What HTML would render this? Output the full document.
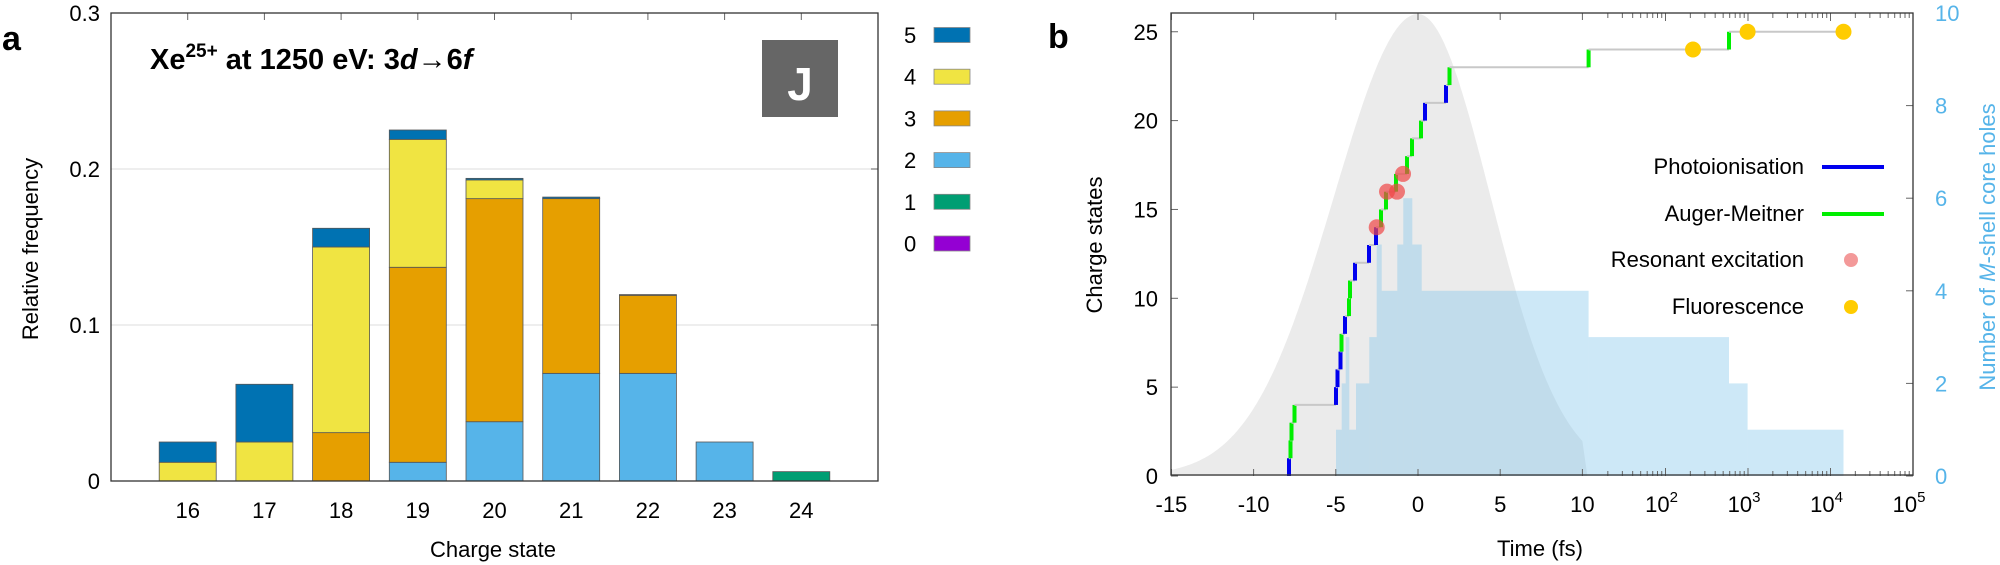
<!DOCTYPE html>
<html><head><meta charset="utf-8"><style>
html,body{margin:0;padding:0;background:#fff}
svg{display:block}
text{font-family:"Liberation Sans",sans-serif}
</style></head><body>
<svg id="s" width="2000" height="565" viewBox="0 0 2000 565" xmlns="http://www.w3.org/2000/svg">
<!-- Panel a -->
<g id="pa"></g>
<rect x="111" y="13" width="767" height="468" fill="none" stroke="#333" stroke-width="1.3"/>
<text x="2" y="50" font-size="34" font-weight="bold">a</text>
<text x="150" y="69" font-size="29" font-weight="bold">Xe<tspan dy="-12" font-size="19">25+</tspan><tspan dy="12"> at 1250 eV: 3</tspan><tspan font-style="italic">d</tspan>→6<tspan font-style="italic">f</tspan></text>
<rect x="762" y="40" width="76" height="77" fill="#666"/>
<text x="800" y="100" font-size="46" font-weight="bold" fill="#fff" text-anchor="middle">J</text>
<g font-size="22" text-anchor="end">
<text x="100" y="21">0.3</text><text x="100" y="177">0.2</text><text x="100" y="333">0.1</text><text x="100" y="489">0</text>
</g>
<g font-size="22" text-anchor="middle" id="axa"></g>
<text x="493" y="557" font-size="22" text-anchor="middle">Charge state</text>
<text transform="translate(38,249) rotate(-90)" font-size="22" text-anchor="middle">Relative frequency</text>
<g font-size="22" id="lega"></g>

<!-- Panel b -->
<g id="pb"></g>
<rect x="1171" y="13" width="742" height="462" fill="none" stroke="#333" stroke-width="1.3"/>
<text x="1048" y="48" font-size="34" font-weight="bold">b</text>
<g font-size="22" text-anchor="end" id="ylb"></g>
<g font-size="22" fill="#56b4e9" id="yrb"></g>
<g font-size="22" text-anchor="middle" id="xlb"></g>
<text x="1540" y="556" font-size="22" text-anchor="middle">Time (fs)</text>
<text transform="translate(1102,245) rotate(-90)" font-size="22" text-anchor="middle">Charge states</text>
<text transform="translate(1995,247) rotate(-90)" font-size="22" text-anchor="middle" fill="#56b4e9">Number of <tspan font-style="italic">M</tspan>-shell core holes</text>
<g font-size="22" text-anchor="end">
<text x="1804" y="174">Photoionisation</text>
<text x="1804" y="221">Auger-Meitner</text>
<text x="1804" y="267">Resonant excitation</text>
<text x="1804" y="314">Fluorescence</text>
</g>
<line x1="1822" y1="167" x2="1884" y2="167" stroke="#0000ee" stroke-width="4"/>
<line x1="1822" y1="214" x2="1884" y2="214" stroke="#00ee00" stroke-width="4"/>
<circle cx="1851" cy="260" r="7" fill="#f08080" opacity="0.8"/>
<circle cx="1851" cy="307" r="7" fill="#ffcc00"/>
</svg>
<script>
const NS="http://www.w3.org/2000/svg";
function el(p,t,a){const e=document.createElementNS(NS,t);for(const k in a)e.setAttribute(k,a[k]);document.getElementById(p).appendChild(e);return e;}
// panel a
const Y=v=>481-v*1560; const X=c=>111+76.7*(c-15);
el('pa','line',{x1:111,x2:878,y1:Y(0.1),y2:Y(0.1),stroke:'#e4e4e4','stroke-width':1.2});
el('pa','line',{x1:111,x2:878,y1:Y(0.2),y2:Y(0.2),stroke:'#e4e4e4','stroke-width':1.2});
const C={5:'#0072b2',4:'#f0e442',3:'#e69f00',2:'#56b4e9',1:'#009e73',0:'#9400d3'};
const bars={16:[[4,0.012],[5,0.025]],17:[[4,0.025],[5,0.062]],18:[[3,0.031],[4,0.150],[5,0.162]],
19:[[2,0.012],[3,0.137],[4,0.219],[5,0.225]],20:[[2,0.038],[3,0.181],[4,0.193],[5,0.194]],
21:[[2,0.069],[3,0.181],[5,0.182]],22:[[2,0.069],[3,0.119],[5,0.1195]],23:[[2,0.025]],24:[[1,0.006]]};
for(const c in bars){let lo=0;for(const [k,hi] of bars[c]){el('pa','rect',{x:X(+c)-28.5,y:Y(hi),width:57,height:Y(lo)-Y(hi),fill:C[k],stroke:'#555','stroke-width':0.8});lo=hi;}}
for(let c=16;c<=24;c++){el('pa','line',{x1:X(c),x2:X(c),y1:13,y2:20,stroke:'#666'});const t=el('axa','text',{x:X(c),y:518});t.textContent=c;}
[0.1,0.2].forEach(v=>{el('pa','line',{x1:871,x2:878,y1:Y(v),y2:Y(v),stroke:'#666'});});
[5,4,3,2,1,0].forEach((k,i)=>{const y=35+i*41.7;const t=el('lega','text',{x:904,y:y+8});t.textContent=k;el('lega','rect',{x:934,y:y-7.5,width:36,height:15,fill:C[k],stroke:'#888','stroke-width':0.8});});
// panel b
const YB=q=>476-17.77*q, YR=n=>476-46.3*n;
const T=t=>t<=10?1418+16.44*t:1583+82.5*Math.log10(t/10);
let d='M1171,476';for(let t=-15;t<=10;t+=0.1){const s=t<0?5.1:4.4;d+=` L${T(t).toFixed(1)},${YB(26*Math.exp(-t*t/(2*s*s))).toFixed(1)}`;}
d+=` L${T(10)+5},476 Z`;el('pb','path',{d:d,fill:'#ebebeb'});
const H=[[1336,1341.7,1],[1341.7,1345.7,2],[1345.7,1349.3,3],[1349.3,1356,1],[1356,1369.3,2],[1369.3,1376.7,3],[1376.7,1381.7,5],[1381.7,1397.3,4],[1397.3,1403.3,5],[1403.3,1412.3,6],[1412.3,1421.7,5],[1421.7,1588.6,4],[1588.6,1729,3],[1729,1747.6,2],[1747.6,1843.5,1]];
for(const [a,b,n] of H)el('pb','rect',{x:a,y:YR(n),width:b-a,height:YR(0)-YR(n),fill:'rgba(135,200,235,0.42)'});
const S=[[1289,0,1,'b'],[1290.5,1,2,'g'],[1291.5,2,3,'g'],[1294.5,3,4,'g'],[1336,4,5,'b'],[1337.5,5,6,'b'],[1340.5,6,7,'b'],[1341.5,7,8,'g'],[1345,8,9,'b'],[1349,9,10,'g'],[1350,10,11,'g'],[1355,11,12,'b'],[1369,12,13,'b'],[1376,13,14,'b'],[1381,14,15,'g'],[1386,15,16,'g'],[1396,16,17,'g'],[1407,17,18,'g'],[1412,18,19,'g'],[1421,19,20,'g'],[1425,20,21,'b'],[1446,21,22,'b'],[1449.5,22,23,'g'],[1588.6,23,24,'g'],[1729,24,25,'g']];
let px=S[0][0];
for(let i=0;i<S.length;i++){const [x,a,b,c]=S[i];if(i>0)el('pb','line',{x1:px,x2:x,y1:YB(a),y2:YB(a),stroke:'#c8c8c8','stroke-width':2});
el('pb','line',{x1:x,x2:x,y1:YB(a),y2:YB(b),stroke:c=='b'?'#0000ee':'#00ee00','stroke-width':4});px=x;}
el('pb','line',{x1:px,x2:1843.5,y1:YB(25),y2:YB(25),stroke:'#c8c8c8','stroke-width':2});
[[1376.7,14],[1387,16],[1397,16],[1403,17]].forEach(([x,q])=>el('pb','circle',{cx:x,cy:YB(q),r:8,fill:'rgba(240,70,70,0.7)'}));
[[1693,24],[1747.6,25],[1843.5,25]].forEach(([x,q])=>el('pb','circle',{cx:x,cy:YB(q),r:8,fill:'#ffcc00'}));
for(let q=0;q<=25;q+=5){el('pb','line',{x1:1171,x2:1178,y1:YB(q),y2:YB(q),stroke:'#666'});const t=el('ylb','text',{x:1158,y:YB(q)+8});t.textContent=q;}
for(let n=0;n<=10;n+=2){el('pb','line',{x1:1906,x2:1913,y1:YR(n),y2:YR(n),stroke:'#666'});const t=el('yrb','text',{x:1935,y:YR(n)+8});t.textContent=n;}
for(let t=-15;t<=10;t+=5){el('pb','line',{x1:T(t),x2:T(t),y1:469,y2:476,stroke:'#666'});el('pb','line',{x1:T(t),x2:T(t),y1:13,y2:20,stroke:'#666'});const e=el('xlb','text',{x:T(t),y:512});e.textContent=t;}
for(let dd=1;dd<5;dd++)for(let m=2;m<=10;m++){const x=1583+82.5*(dd-1+Math.log10(m));const L=m==10?8:5;el('pb','line',{x1:x,x2:x,y1:476-L,y2:476,stroke:'#666'});el('pb','line',{x1:x,x2:x,y1:13,y2:13+L,stroke:'#666'});}
for(let p=2;p<=5;p++){const x=1583+82.5*(p-1);const e=el('xlb','text',{x:x-4,y:512});e.textContent='10';const s=document.createElementNS(NS,'tspan');s.setAttribute('dy','-10');s.setAttribute('font-size','15');s.textContent=p;e.appendChild(s);}
</script>
</body></html>
